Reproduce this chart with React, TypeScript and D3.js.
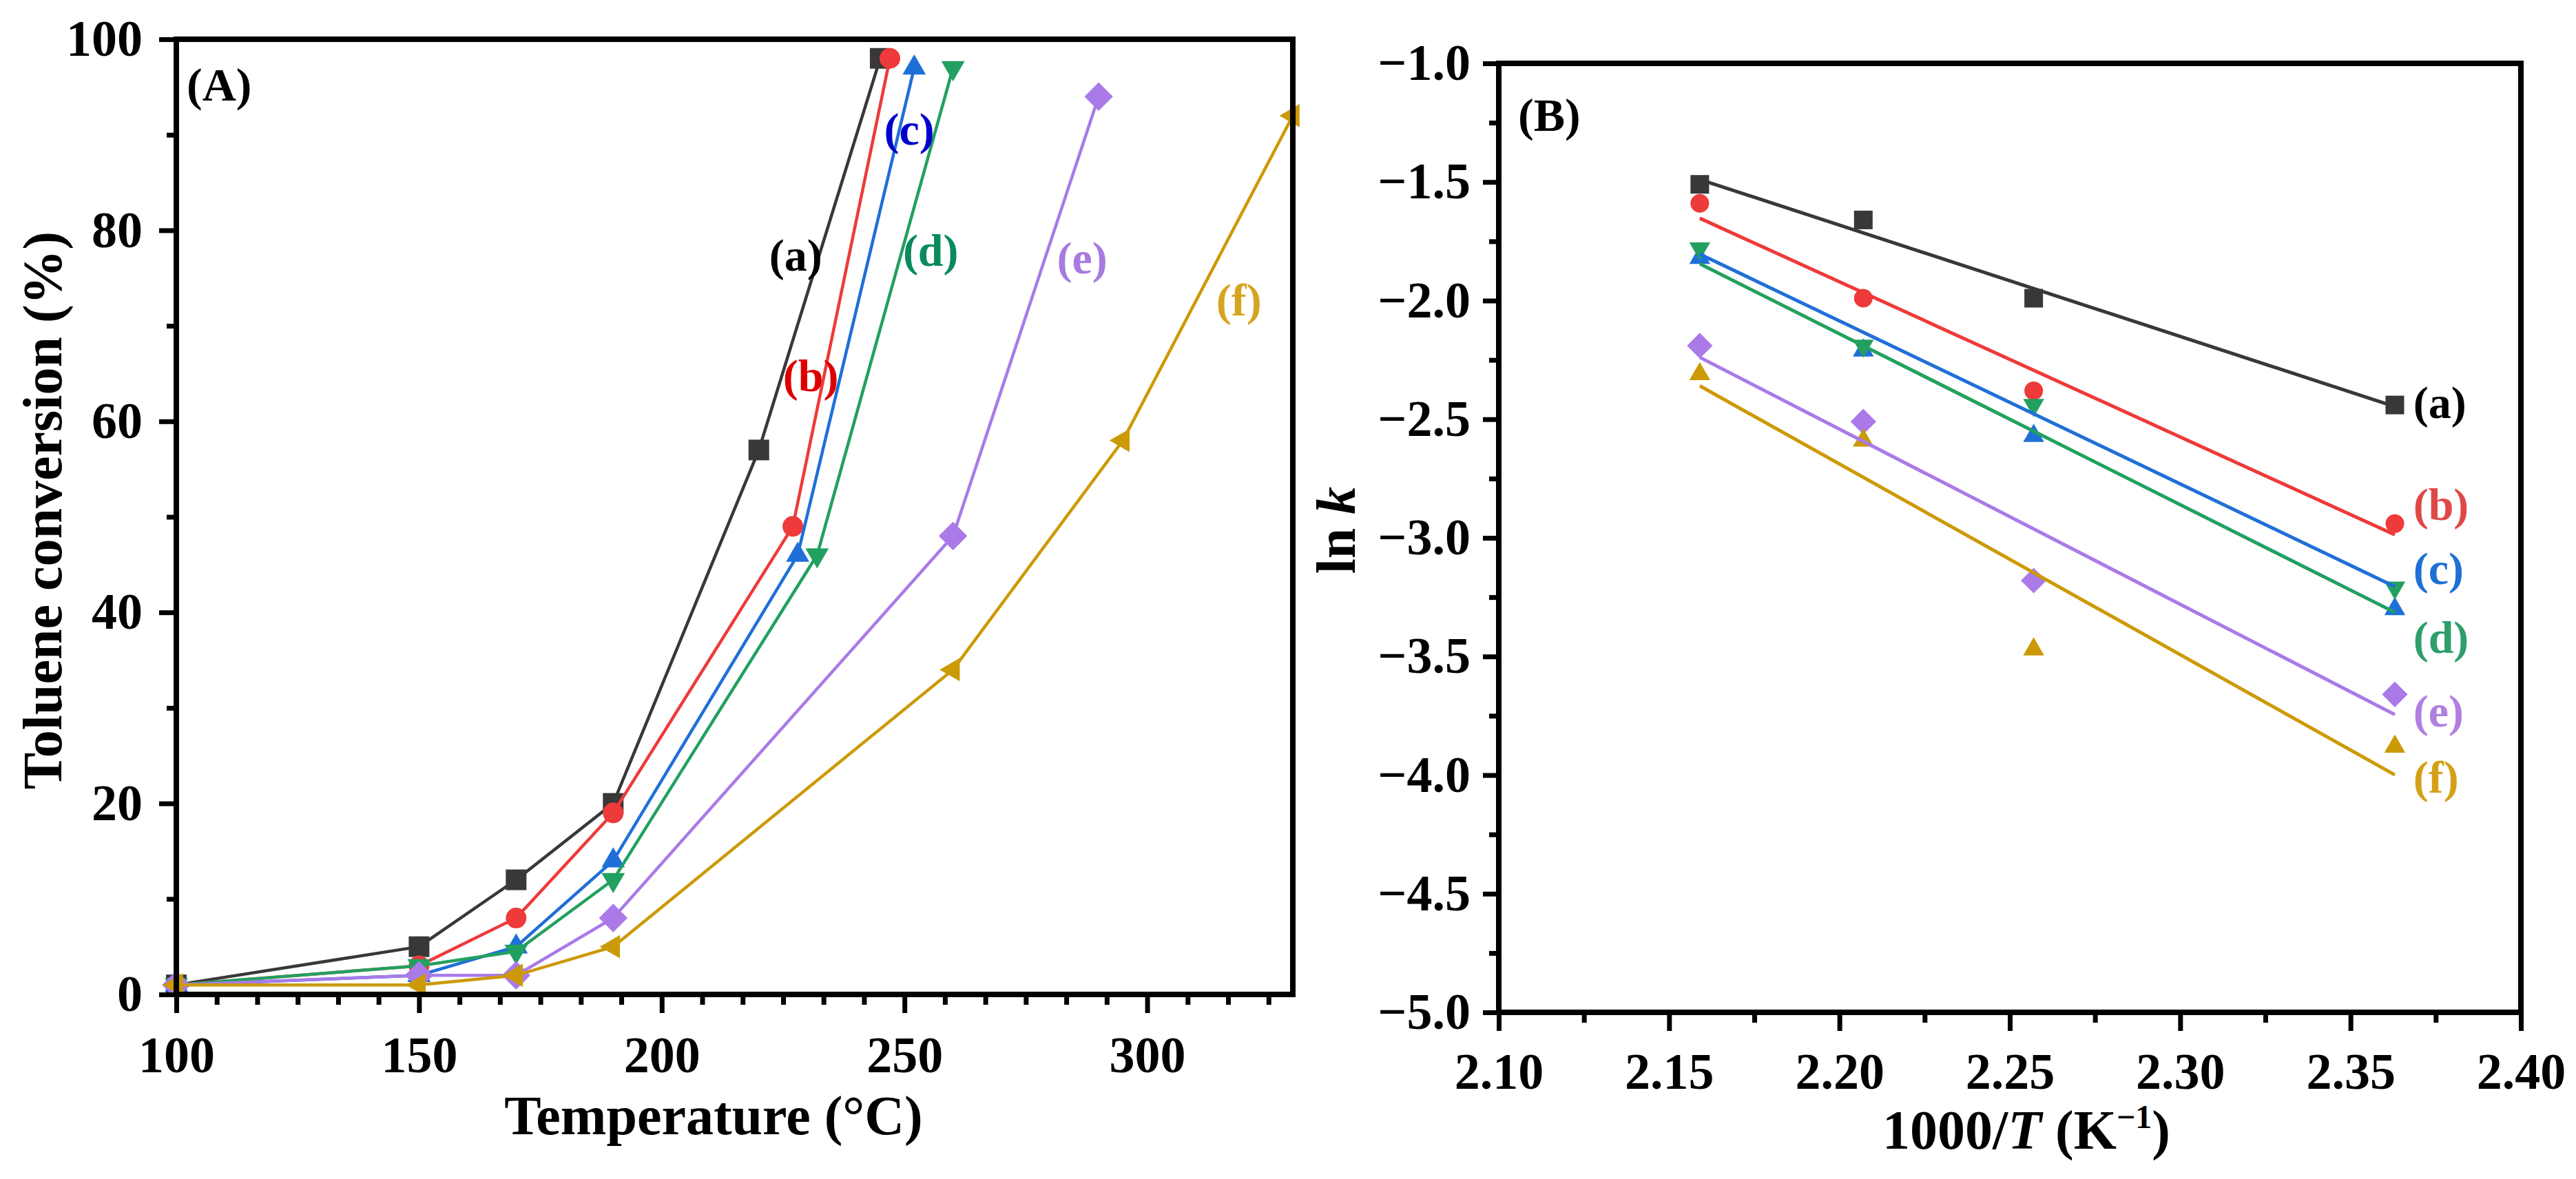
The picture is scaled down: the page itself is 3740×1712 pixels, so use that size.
import { useEffect, useRef } from 'react';
import * as d3 from 'd3';

// Panel A: toluene conversion vs temperature
const tempA = [100, 150, 170, 190, 220, 245];
const convA = [1, 5, 12, 20, 57, 98];
const tempB = [100, 150, 170, 190, 227, 247];
const convB = [1, 3, 8, 19, 49, 98];
const tempC = [100, 150, 170, 190, 228, 252];
const convC = [1, 2, 5, 14, 46, 97];
const tempD = [100, 150, 170, 190, 232, 260];
const convD = [1, 3, 4.5, 12, 46, 97];
const tempE = [100, 150, 170, 190, 260, 290];
const convE = [1, 2, 2, 8, 48, 94];
const tempF = [100, 150, 170, 190, 260, 295, 330];
const convF = [1, 1, 2, 5, 34, 58, 92];

// Panel B: ln k vs 1000/T
const invT = [2.159, 2.207, 2.257, 2.363];
const lnkA = [-1.51, -1.66, -1.99, -2.44];
const lnkB = [-1.59, -1.99, -2.38, -2.94];
const lnkC = [-1.82, -2.21, -2.57, -3.30];
const lnkD = [-1.78, -2.19, -2.44, -3.21];
const lnkE = [-2.19, -2.51, -3.18, -3.66];
const lnkF = [-2.31, -2.59, -3.47, -3.88];

const seriesNames = ['(a)', '(b)', '(c)', '(d)', '(e)', '(f)'];
const colors = ['#383838', '#ee3a3a', '#1f6fd8', '#22a060', '#a97ae8', '#cc9a06'];
// fit lines of (c) and (d) come out in each other's colour in the original
const fitColors = ['#383838', '#ee3a3a', '#22a060', '#1f6fd8', '#a97ae8', '#cc9a06'];
const labelColorsA = ['#000000', '#dd0000', '#0000cc', '#0b8a5a', '#a77be0', '#d6a520'];
const labelColorsB = ['#000000', '#e04848', '#1f6fd6', '#2e9e6a', '#b07fe0', '#d4a017'];
const shapesA = ['square', 'circle', 'up', 'down', 'diamond', 'left'];
const shapesB = ['square', 'circle', 'up', 'down', 'diamond', 'up'];

const xTicksA = [100, 150, 200, 250, 300];
const yTicksA = [0, 20, 40, 60, 80, 100];
const xTicksB = [2.1, 2.15, 2.2, 2.25, 2.3, 2.35, 2.4];
const yTicksB = [-5, -4.5, -4, -3.5, -3, -2.5, -2, -1.5, -1];

// label anchors in data units
const labelPosA = [[227.6, 77.4], [230.7, 64.8], [251.0, 90.6], [255.4, 77.9], [286.6, 77.1], [318.9, 72.7]];
const labelPosB = [[2.3684, -2.43], [2.3684, -2.86], [2.3684, -3.13], [2.3684, -3.42], [2.3684, -3.73], [2.3684, -4.01]];

const FONT = '"Liberation Serif", "Times New Roman", serif';

function linFit(xs: number[], ys: number[]) {
    const mx = d3.mean(xs)!;
    const my = d3.mean(ys)!;
    const sxy = d3.sum(xs, (x, i) => (x - mx) * (ys[i] - my));
    const sxx = d3.sum(xs, x => (x - mx) * (x - mx));
    const slope = sxy / sxx;
    return (x: number) => my + slope * (x - mx);
}

function symbolPath(shape: string, s: number) {
    if (shape === 'square') return { d: d3.symbol(d3.symbolSquare, s * s)()!, rot: 0 };
    if (shape === 'circle') return { d: d3.symbol(d3.symbolCircle, Math.PI * (s / 2) ** 2)()!, rot: 0 };
    if (shape === 'diamond') return { d: d3.symbol(d3.symbolSquare, s * s * 0.95)()!, rot: 45 };
    const tri = d3.symbol(d3.symbolTriangle, s * s * 0.55)()!;
    if (shape === 'down') return { d: tri, rot: 180 };
    if (shape === 'left') return { d: tri, rot: -90 };
    return { d: tri, rot: 0 };
}

export default function App() {
    const svgRef = useRef<SVGSVGElement>(null);

    useEffect(() => {
        if (!svgRef.current) return;
        document.body.style.margin = '0';
        const svg = d3.select(svgRef.current);
        svg.selectAll('*').remove();

        const styleText = (sel: any, size: number) =>
            sel.attr('font-family', FONT).attr('font-size', size).attr('font-weight', 'bold').attr('fill', '#000');

        function drawAxes(
            x: d3.ScaleLinear<number, number>, y: d3.ScaleLinear<number, number>,
            xTicks: number[], xMinor: number[], yTicks: number[], yMinor: number[],
            xFmt: (d: any) => string, yFmt: (d: any) => string,
            opt: { xPad: number; yPad: number; yTick: number }
        ) {
            const [x0, x1] = x.range();
            const [y0, y1] = y.range();
            const gx = svg.append('g').attr('transform', `translate(0,${y0})`)
                .call(d3.axisBottom(x).tickValues(xTicks).tickSize(27).tickPadding(opt.xPad).tickFormat(xFmt));
            gx.select('.domain').remove();
            gx.selectAll('line').attr('stroke', '#000').attr('stroke-width', 7);
            styleText(gx.selectAll('text'), 74);

            const gxm = svg.append('g').attr('transform', `translate(0,${y0})`)
                .call(d3.axisBottom(x).tickValues(xMinor).tickSize(15).tickFormat(() => ''));
            gxm.select('.domain').remove();
            gxm.selectAll('line').attr('stroke', '#000').attr('stroke-width', 7);

            const gy = svg.append('g').attr('transform', `translate(${x0},0)`)
                .call(d3.axisLeft(y).tickValues(yTicks).tickSize(opt.yTick).tickPadding(opt.yPad).tickFormat(yFmt));
            gy.select('.domain').remove();
            gy.selectAll('line').attr('stroke', '#000').attr('stroke-width', 7);
            styleText(gy.selectAll('text'), 74);

            const gym = svg.append('g').attr('transform', `translate(${x0},0)`)
                .call(d3.axisLeft(y).tickValues(yMinor).tickSize(14).tickFormat(() => ''));
            gym.select('.domain').remove();
            gym.selectAll('line').attr('stroke', '#000').attr('stroke-width', 7);

            svg.append('rect')
                .attr('x', x0).attr('y', y1)
                .attr('width', x1 - x0).attr('height', y0 - y1)
                .attr('fill', 'none').attr('stroke', '#000').attr('stroke-width', 8);
        }

        function drawMarkers(g: any, pts: [number, number][], shape: string, s: number, color: string) {
            const sym = symbolPath(shape, s);
            g.selectAll(null).data(pts).enter().append('path')
                .attr('d', sym.d)
                .attr('transform', (p: [number, number]) => `translate(${p[0]},${p[1]}) rotate(${sym.rot})`)
                .attr('fill', color);
        }

        // ---------------- Panel A ----------------
        const xA = d3.scaleLinear().domain([100, 330]).range([256, 1877]);
        const yA = d3.scaleLinear().domain([0, 100]).range([1444, 57]);
        const temps = [tempA, tempB, tempC, tempD, tempE, tempF];
        const convs = [convA, convB, convC, convD, convE, convF];
        const gA = svg.append('g');
        temps.forEach((ts, si) => {
            const pts: [number, number][] = ts.map((t, i) => [xA(t), yA(convs[si][i])]);
            gA.append('path')
                .attr('d', d3.line()(pts))
                .attr('fill', 'none')
                .attr('stroke', colors[si])
                .attr('stroke-width', 4.5);
            drawMarkers(gA, pts, shapesA[si], 30, colors[si]);
        });

        const xMinorA = d3.range(100, 330.01, 50 / 6).filter((_, i) => i % 6 !== 0);
        drawAxes(xA, yA, xTicksA, xMinorA, yTicksA, [10, 30, 50, 70, 90],
            d3.format('d'), d3.format('d'), { xPad: 33, yPad: 24, yTick: 25 });

        seriesNames.forEach((name, i) => {
            styleText(svg.append('text'), 66)
                .attr('x', xA(labelPosA[i][0])).attr('y', yA(labelPosA[i][1]))
                .attr('text-anchor', 'middle').attr('dominant-baseline', 'central')
                .attr('fill', labelColorsA[i]).text(name);
        });

        styleText(svg.append('text'), 68).attr('x', 271).attr('y', 146).text('(A)');
        styleText(svg.append('text'), 80)
            .attr('x', 1036).attr('y', 1647).attr('text-anchor', 'middle')
            .text('Temperature (°C)');
        styleText(svg.append('text'), 80)
            .attr('transform', 'translate(62,741) rotate(-90)')
            .attr('text-anchor', 'middle').attr('dominant-baseline', 'central')
            .text('Toluene conversion (%)');

        // ---------------- Panel B ----------------
        const xB = d3.scaleLinear().domain([2.1, 2.4]).range([2176, 3660]);
        const yB = d3.scaleLinear().domain([-5, -1]).range([1470, 92]);
        const lnks = [lnkA, lnkB, lnkC, lnkD, lnkE, lnkF];
        const gB = svg.append('g');
        lnks.forEach((ys, si) => {
            const pts: [number, number][] = invT.map((x, i) => [xB(x), yB(ys[i])]);
            drawMarkers(gB, pts, shapesB[si], 27, colors[si]);
        });
        const xEnds = d3.extent(invT) as [number, number];
        lnks.forEach((ys, si) => {
            const f = linFit(invT, ys);
            gB.append('path')
                .attr('d', d3.line()(xEnds.map(x => [xB(x), yB(f(x))] as [number, number])))
                .attr('fill', 'none')
                .attr('stroke', fitColors[si])
                .attr('stroke-width', 5);
        });

        drawAxes(xB, yB, xTicksB, d3.range(2.125, 2.4, 0.05), yTicksB, d3.range(-4.75, -1, 0.5),
            d3.format('.2f'), d3.format('.1f'), { xPad: 31, yPad: 18, yTick: 23 });

        seriesNames.forEach((name, i) => {
            styleText(svg.append('text'), 66)
                .attr('x', xB(labelPosB[i][0])).attr('y', yB(labelPosB[i][1]))
                .attr('text-anchor', 'start').attr('dominant-baseline', 'central')
                .attr('fill', labelColorsB[i]).text(name);
        });

        styleText(svg.append('text'), 68).attr('x', 2204).attr('y', 190).text('(B)');

        const tB = styleText(svg.append('text'), 80)
            .attr('x', 2942).attr('y', 1668).attr('text-anchor', 'middle');
        tB.append('tspan').text('1000/');
        tB.append('tspan').attr('font-style', 'italic').text('T');
        tB.append('tspan').text(' (K');
        tB.append('tspan').attr('font-size', 48).attr('dy', -30).text('−1');
        tB.append('tspan').attr('dy', 30).text(')');

        const yt = styleText(svg.append('text'), 80)
            .attr('transform', 'translate(1940,770) rotate(-90)')
            .attr('text-anchor', 'middle').attr('dominant-baseline', 'central');
        yt.append('tspan').text('ln ');
        yt.append('tspan').attr('font-style', 'italic').text('k');
    }, []);

    return (
        <svg
            ref={svgRef}
            width={3740}
            height={1712}
            style={{ display: 'block', background: '#ffffff' }}
        />
    );
}
